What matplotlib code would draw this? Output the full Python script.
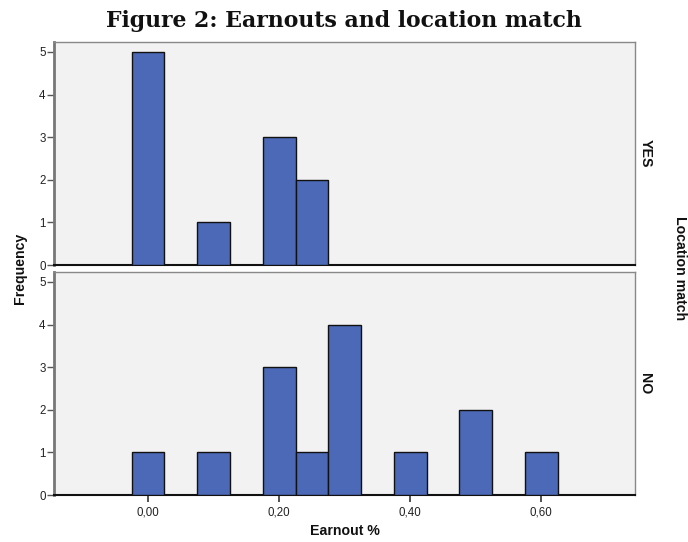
import matplotlib
matplotlib.use("Agg")
import matplotlib.pyplot as plt
import numpy as np

# Earnout share bins (bin centres) and frequencies per location-match group
bin_centers = [0.00, 0.10, 0.20, 0.25, 0.30, 0.40, 0.50, 0.60]
freq_yes = [5, 1, 3, 2, 0, 0, 0, 0]
freq_no = [1, 1, 3, 1, 4, 1, 2, 1]
panel_labels = ["YES", "NO"]
x_ticks = [0.0, 0.2, 0.4, 0.6]
x_tick_labels = ["0,00", "0,20", "0,40", "0,60"]
y_ticks = [0, 1, 2, 3, 4, 5]

bar_width = 0.05
bar_color = "#4b69b6"
panel_bg = "#f2f2f2"

fig = plt.figure(figsize=(6.88, 5.42), dpi=100)
ax_top = fig.add_axes([0.0785, 0.511, 0.8445, 0.412])
ax_bot = fig.add_axes([0.0785, 0.0867, 0.8445, 0.412])

for ax, freqs, lab in [(ax_top, freq_yes, panel_labels[0]), (ax_bot, freq_no, panel_labels[1])]:
    ax.set_facecolor(panel_bg)
    xs = [c for c, f in zip(bin_centers, freqs) if f > 0]
    hs = [f for f in freqs if f > 0]
    ax.bar(xs, hs, width=bar_width, color=bar_color, edgecolor="#111111", linewidth=1.0, zorder=3)
    ax.set_xlim(-0.1435, 0.743)
    ax.set_ylim(0, 5.24)
    ax.set_yticks(y_ticks)
    ax.set_yticklabels([str(t) for t in y_ticks], fontsize=8.3, color="#222222", family="Liberation Sans")
    ax.tick_params(axis="y", direction="out", length=5, width=1, color="#555555", pad=1)
    for side in ["top", "right"]:
        ax.spines[side].set_color("#888888")
        ax.spines[side].set_linewidth(1.0)
    ax.spines["left"].set_color("#777777")
    ax.spines["left"].set_linewidth(2.0)
    ax.spines["bottom"].set_color("#111111")
    ax.spines["bottom"].set_linewidth(1.5)
    ax.text(1.018, 0.5, lab, transform=ax.transAxes, rotation=-90, ha="center", va="center",
            fontsize=10.2, fontweight="bold", family="Liberation Sans", color="#111111")

ax_top.set_xticks([])
ax_bot.set_xticks(x_ticks)
ax_bot.set_xticklabels(x_tick_labels, fontsize=8.3, color="#222222", family="Liberation Sans")
ax_bot.tick_params(axis="x", direction="out", length=5, width=1.2, color="#333333", pad=3)
ax_bot.set_xlabel("Earnout %", fontsize=10.2, fontweight="bold", family="Liberation Sans",
                  labelpad=4, color="#111111")

fig.text(0.029, 0.505, "Frequency", rotation=90, ha="center", va="center",
         fontsize=10.2, fontweight="bold", family="Liberation Sans", color="#111111")
fig.text(0.988, 0.505, "Location match", rotation=-90, ha="center", va="center",
         fontsize=10.2, fontweight="bold", family="Liberation Sans", color="#111111")
fig.text(0.5, 0.962, "Figure 2: Earnouts and location match", ha="center", va="center",
         fontsize=15.8, fontweight="bold", family="DejaVu Serif", color="#111111")

fig.savefig("out.png", dpi=100)
